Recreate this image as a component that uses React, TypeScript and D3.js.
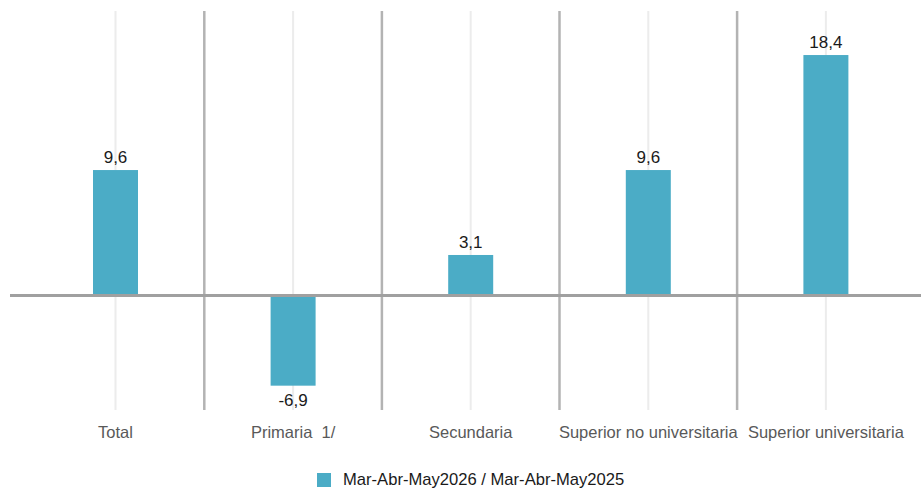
import React from "react";
import * as d3 from "d3";

const categories = ["Total", "Primaria  1/", "Secundaria", "Superior no universitaria", "Superior universitaria"];
const values = [9.6, -6.9, 3.1, 9.6, 18.4];
const seriesName = "Mar-Abr-May2026 / Mar-Abr-May2025";

const W = 921;
const H = 489;
const color = "#4BACC6";

export default function App() {
  const x = d3.scaleBand<string>().domain(categories).range([26.7, 914.7]).paddingInner(0).paddingOuter(0);
  const y = d3.scaleLinear().domain([-8.8, 21.9]).range([410.5, 9.3]);
  const bw = 45;
  const fmt = (v: number) => v.toFixed(1).replace(".", ",");
  const y0 = y(0);
  return (
    <svg width={W} height={H} style={{ position: "absolute", left: 0, top: 0, fontFamily: "'Liberation Sans', Arial, sans-serif" }}>
      <rect width={W} height={H} fill="#fff" />
      {categories.map((c) => (
        <line key={"g" + c} x1={x(c)! + x.bandwidth() / 2} x2={x(c)! + x.bandwidth() / 2} y1={11} y2={410} stroke="#ececec" strokeWidth={2} />
      ))}
      {categories.slice(1).map((c) => (
        <line key={"s" + c} x1={x(c)!} x2={x(c)!} y1={11} y2={410} stroke="#b3b3b3" strokeWidth={2.5} />
      ))}
      {categories.map((c, i) => {
        const v = values[i];
        const cx = x(c)! + x.bandwidth() / 2;
        const top = Math.min(y(v), y0);
        const h = Math.abs(y(v) - y0);
        return (
          <g key={"b" + c}>
            <rect x={cx - bw / 2} y={top} width={bw} height={h} fill={color} />
            <text x={cx} y={v >= 0 ? y(v) - 7 : y(v) + 20} textAnchor="middle" fontSize={17} fill="#1a1a1a">
              {fmt(v)}
            </text>
            <text x={cx} y={438} textAnchor="middle" fontSize={16.5} fill="#595959" style={{ whiteSpace: "pre" }}>
              {c}
            </text>
          </g>
        );
      })}
      <line x1={10} x2={921} y1={y0} y2={y0} stroke="#a0a0a0" strokeWidth={3} />
      <rect x={317} y={473} width={14} height={14} fill={color} />
      <text x={343} y={485} fontSize={16.6} fill="#1a1a1a">{seriesName}</text>
    </svg>
  );
}
